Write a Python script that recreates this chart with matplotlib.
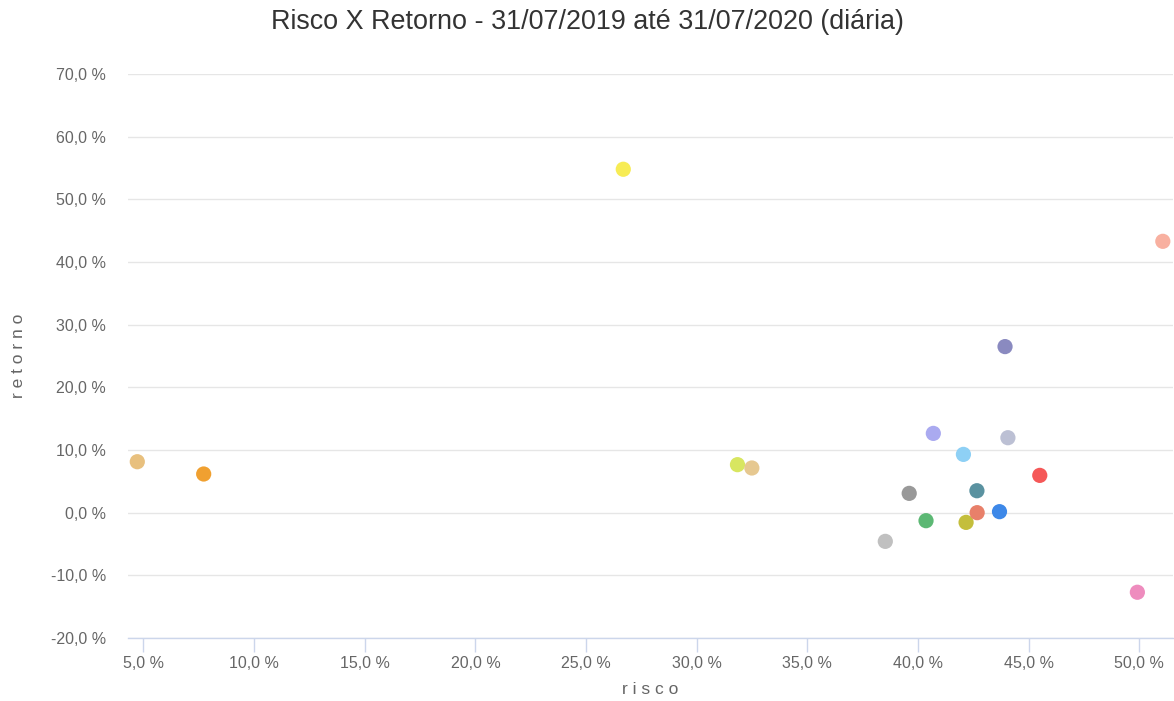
import matplotlib.pyplot as plt
from matplotlib.ticker import FuncFormatter, MultipleLocator

plt.rcParams['font.family'] = ['Liberation Sans', 'DejaVu Sans']

# risco (x) e retorno (y) em %
risco = [4.72, 7.72, 26.68, 31.84, 32.49, 38.52, 39.6, 40.36, 40.69, 42.05,
         42.17, 42.67, 42.66, 43.68, 43.93, 44.06, 45.5, 49.91, 51.06]
retorno = [8.13, 6.17, 54.8, 7.66, 7.13, -4.58, 3.08, -1.28, 12.65, 9.3,
           -1.55, 0.0, 3.5, 0.16, 26.5, 11.96, 5.95, -12.7, 43.3]
cores = ['#E8C07E', '#F0A030', '#F7EC55', '#D8E660', '#E6C890', '#C0C0C0',
         '#999999', '#5CB874', '#AAAAF0', '#8ED0F5', '#C4BE3C', '#E8806A',
         '#5A92A0', '#3D88E8', '#8A8AC0', '#BCC0D4', '#F55858', '#EE8CBE',
         '#F8B0A0']

W, H = 1174, 701
fig = plt.figure(figsize=(W / 100, H / 100), dpi=100)
ax = fig.add_axes([128 / W, (H - 638) / H, 1045 / W, 564 / H])

ax.scatter(risco, retorno, s=120, c=cores, edgecolors='none', zorder=3)

ax.set_xlim(4.30, 51.52)
ax.set_ylim(-20, 70)
ax.xaxis.set_major_locator(MultipleLocator(5))
ax.yaxis.set_major_locator(MultipleLocator(10))

fmt = FuncFormatter(lambda v, p: f"{v:.1f}".replace('.', ',') + " %")
ax.xaxis.set_major_formatter(fmt)
ax.yaxis.set_major_formatter(fmt)

ax.grid(axis='y', color='#e6e6e6', linewidth=1)
ax.set_axisbelow(True)
for s in ['top', 'right', 'left']:
    ax.spines[s].set_visible(False)
ax.spines['bottom'].set_color('#ccd6eb')
ax.spines['bottom'].set_linewidth(1)

ax.tick_params(axis='x', colors='#ccd6eb', length=10, width=1, pad=3,
               labelcolor='#666666', labelsize=11.5)
ax.tick_params(axis='y', length=0, pad=16, labelcolor='#666666', labelsize=11.5)

ax.set_xlabel('r i s c o', color='#666666', fontsize=12.5)
ax.set_ylabel('r e t o r n o', color='#666666', fontsize=12.5)
ax.xaxis.set_label_coords(0.5, -(682 - 638) / 564)
ax.yaxis.set_label_coords(-(128 - 26) / 1045, 0.5)

fig.text(0.5, 1 - 22 / H, 'Risco X Retorno - 31/07/2019 até 31/07/2020 (diária)',
         ha='center', va='center', fontsize=19.4, color='#333333')

fig.savefig('out.png', dpi=100)
